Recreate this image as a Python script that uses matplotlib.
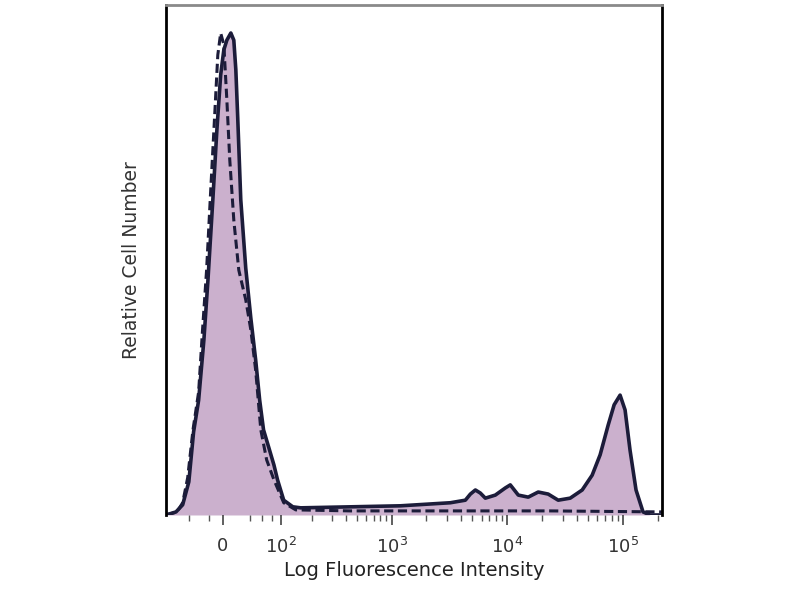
import numpy as np
import matplotlib
matplotlib.use("Agg")
import matplotlib.pyplot as plt

# biexponential-like display scale (asinh), width parameter
C = 70.0

# stained sample (filled, solid outline)
stained_x = [-97, -75, -62, -51, -43, -35, -27, -21, -14, -8.3, -3, 1.4, 5.6, 11.2,
             15.4, 18.3, 21, 25.5, 33, 41, 49, 56, 63, 73, 84, 92, 107, 132, 157,
             441, 1197, 3227, 4343, 4800, 5300, 5850, 6460, 7880, 9610, 10610,
             12440, 15160, 18490, 22540, 27500, 34900, 44300, 54000, 63300, 74200,
             83600, 94100, 103900, 114700, 129200, 148500, 170700, 216500]
stained_y = [0, 0.6, 2.0, 6.5, 16.3, 22.5, 34.3, 46.1, 61.8, 75.5, 86.3, 91.2, 93.1, 94.5,
             93.1, 87.3, 78.0, 61.8, 48.4, 38.6, 30.4, 22.5, 16.7, 13.3, 9.8, 6.9, 2.9, 1.6, 1.4,
             1.6, 1.8, 2.4, 2.9, 4.1, 4.9, 4.3, 3.3, 3.9, 5.3, 5.9,
             3.9, 3.5, 4.5, 4.1, 2.9, 3.3, 4.9, 7.8, 11.8, 17.6,
             21.6, 23.5, 20.6, 12.7, 4.9, 0.6, 0, 0]

# isotype control (dashed outline)
control_x = [-97, -73, -62, -53, -44, -35, -29, -23, -17, -11, -7, -3, 1.4, 5.6, 9.7,
             15.4, 22.6, 33, 41, 49, 58, 69, 84, 107, 141, 441, 3227, 23450, 216500]
control_y = [0, 0.6, 2.4, 7.3, 16.7, 24.1, 36.3, 48.0, 63.7, 79.4, 90.2, 94.5, 92.2, 81.4, 69.6,
             57.8, 48.0, 42.2, 36.3, 28.4, 16.7, 10.8, 6.9, 2.4, 1.0, 0.8, 0.8, 0.8, 0.6]

major_ticks = [0, 1e2, 1e3, 1e4, 1e5]
major_labels = ["0", "$10^2$", "$10^3$", "$10^4$", "$10^5$"]
minor_ticks = ([-50, -20] + [40, 60, 80]
               + [m * 10 ** e for e in (2, 3, 4) for m in range(2, 10)] + [2e5])


def fwd(x):
    return np.arcsinh(np.asarray(x, dtype=float) / C)


def inv(y):
    return C * np.sinh(np.asarray(y, dtype=float))


line_col = "#1c1c3a"
fill_col = "#cbb0cd"

fig = plt.figure(figsize=(8, 6), dpi=100)
ax = fig.add_axes([0.2075, 0.1417, 0.62, 0.85])
ax.set_xscale("function", functions=(fwd, inv))

ax.fill_between(stained_x, stained_y, 0, color=fill_col, lw=0)
ax.plot(stained_x, stained_y, color=line_col, lw=2.6, solid_joinstyle="round")
ax.plot(control_x, control_y, color=line_col, lw=2.2, ls=(0, (3, 1.5)))

ax.set_xlim(-97, 216500)
ax.set_ylim(0, 100)

ax.set_xticks(major_ticks)
ax.set_xticklabels(major_labels)
ax.set_xticks(minor_ticks, minor=True)
ax.tick_params(axis="x", which="major", length=7, width=1.2, color="#444444",
               pad=9, labelsize=13, labelcolor="#333333")
ax.tick_params(axis="x", which="minor", length=4, width=1.0, color="#555555")
ax.set_yticks([])

for side in ("left", "right"):
    ax.spines[side].set_color("black")
    ax.spines[side].set_linewidth(2.0)
ax.spines["top"].set_color("#8a8a8a")
ax.spines["top"].set_linewidth(2.0)
ax.spines["bottom"].set_visible(False)

ax.set_xlabel("Log Fluorescence Intensity", fontsize=14, color="#222222", labelpad=3)
ax.set_ylabel("Relative Cell Number", fontsize=13.5, color="#333333", labelpad=18)

fig.savefig("out.png", dpi=100)
